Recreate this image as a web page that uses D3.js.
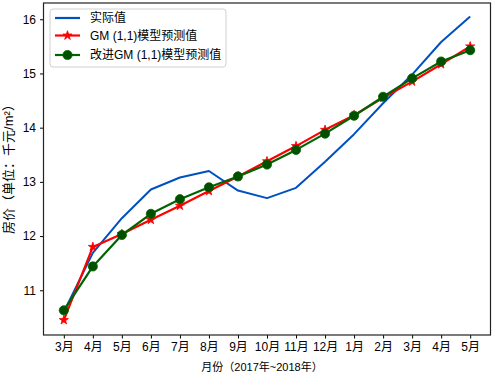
<!DOCTYPE html>
<html>
<head>
<meta charset="utf-8">
<script src="https://cdn.jsdelivr.net/npm/d3@7"></script>
<style>
  html, body { margin: 0; padding: 0; background: #fff; }
  svg { display: block; }
  text { font-family: "Liberation Sans", Arial, "Noto Sans CJK SC", sans-serif; fill: #000; }
</style>
</head>
<body>
<svg id="chart" width="493" height="374"></svg>
<script>
const months = ["3月","4月","5月","6月","7月","8月","9月","10月","11月","12月","1月","2月","3月","4月","5月"];
const actualValues = [10.60, 11.69, 12.33, 12.86, 13.08, 13.20, 12.84, 12.70, 12.89, 13.37, 13.88, 14.45, 14.98, 15.58, 16.05];
const gmValues = [10.45, 11.80, 12.04, 12.30, 12.56, 12.83, 13.10, 13.38, 13.66, 13.96, 14.23, 14.55, 14.85, 15.17, 15.50];
const improvedValues = [10.63, 11.44, 12.02, 12.41, 12.68, 12.90, 13.10, 13.32, 13.59, 13.89, 14.22, 14.57, 14.91, 15.22, 15.43];
const yTicks = [11, 12, 13, 14, 15, 16];
const seriesNames = ["实际值", "GM (1,1)模型预测值", "改进GM (1,1)模型预测值"];
const xLabel = "月份（2017年~2018年）";
const yLabel = "房价（单位：千元/m²）";

const svg = d3.select("#chart");
const L = 43.5, R = 490.5, T = 3, B = 335;

const x = d3.scaleLinear().domain([-0.7, months.length - 1 + 0.7]).range([L, R]);
const y = d3.scaleLinear().domain([10.175, 16.30]).range([B, T]);

const blue = "#0050c0", red = "#ff0000", green = "#006400", greenMarker = "#005000";

// axes
const xAxis = d3.axisBottom(x).tickValues(d3.range(months.length))
  .tickFormat(i => months[i]).tickSize(3.5).tickPadding(3.5);
const gx = svg.append("g").attr("transform", `translate(0,${B})`).call(xAxis);
gx.select(".domain").remove();
gx.selectAll("text").attr("font-size", 12).attr("font-family", null);
gx.selectAll("line").attr("stroke", "#000");

const yAxis = d3.axisLeft(y).tickValues(yTicks).tickFormat(d3.format("d")).tickSize(3.5).tickPadding(4);
const gy = svg.append("g").attr("transform", `translate(${L},0)`).call(yAxis);
gy.select(".domain").remove();
gy.selectAll("text").attr("font-size", 12).attr("font-family", null);
gy.selectAll("line").attr("stroke", "#000");

// lines
const idx = d3.range(months.length);
const lineGen = vals => d3.line().x(i => x(i)).y(i => y(vals[i]))(idx);

const plot = svg.append("g");
plot.append("path").attr("d", lineGen(actualValues)).attr("fill", "none")
  .attr("stroke", blue).attr("stroke-width", 2).attr("stroke-linejoin", "round");

plot.append("path").attr("d", lineGen(gmValues)).attr("fill", "none")
  .attr("stroke", red).attr("stroke-width", 2.2).attr("stroke-linejoin", "round");
const star = d3.symbol().type(d3.symbolStar).size(26);
plot.selectAll(".star").data(idx).join("path")
  .attr("d", star).attr("transform", i => `translate(${x(i)},${y(gmValues[i])})`)
  .attr("fill", red).attr("stroke", red).attr("stroke-width", 0.8);

plot.append("path").attr("d", lineGen(improvedValues)).attr("fill", "none")
  .attr("stroke", green).attr("stroke-width", 2.2).attr("stroke-linejoin", "round");
plot.selectAll(".dot").data(idx).join("circle")
  .attr("cx", i => x(i)).attr("cy", i => y(improvedValues[i])).attr("r", 4.6)
  .attr("fill", greenMarker).attr("stroke", green).attr("stroke-width", 0.8);

// frame
svg.append("rect").attr("x", L).attr("y", T).attr("width", R - L).attr("height", B - T)
  .attr("fill", "none").attr("stroke", "#222").attr("stroke-width", 1.2);

// legend
const lg = svg.append("g");
lg.append("rect").attr("x", 50).attr("y", 9).attr("width", 176).attr("height", 58).attr("rx", 3)
  .attr("fill", "#fff").attr("fill-opacity", 0.85).attr("stroke", "#d0d0d0").attr("stroke-width", 1);
const rows = [18, 35.5, 55];
const colors = [blue, red, green];
rows.forEach((ry, k) => {
  lg.append("line").attr("x1", 55).attr("x2", 80).attr("y1", ry).attr("y2", ry)
    .attr("stroke", colors[k]).attr("stroke-width", 2.2);
  if (k === 1) {
    lg.append("path").attr("d", star).attr("transform", `translate(67.5,${ry})`)
      .attr("fill", red).attr("stroke", red).attr("stroke-width", 0.8);
  }
  if (k === 2) {
    lg.append("circle").attr("cx", 67.5).attr("cy", ry).attr("r", 4.6)
      .attr("fill", greenMarker).attr("stroke", green).attr("stroke-width", 0.8);
  }
  lg.append("text").attr("x", 90).attr("y", ry).attr("dy", "0.35em")
    .attr("font-size", 12).text(seriesNames[k]);
});

// axis labels
svg.append("text").attr("x", 262).attr("y", 367).attr("dy", "0.35em")
  .attr("text-anchor", "middle").attr("font-size", 11).text(xLabel);
svg.append("text").attr("transform", "translate(8,166) rotate(-90)").attr("dy", "0.35em")
  .attr("text-anchor", "middle").attr("font-size", 13).text(yLabel);
</script>
</body>
</html>
